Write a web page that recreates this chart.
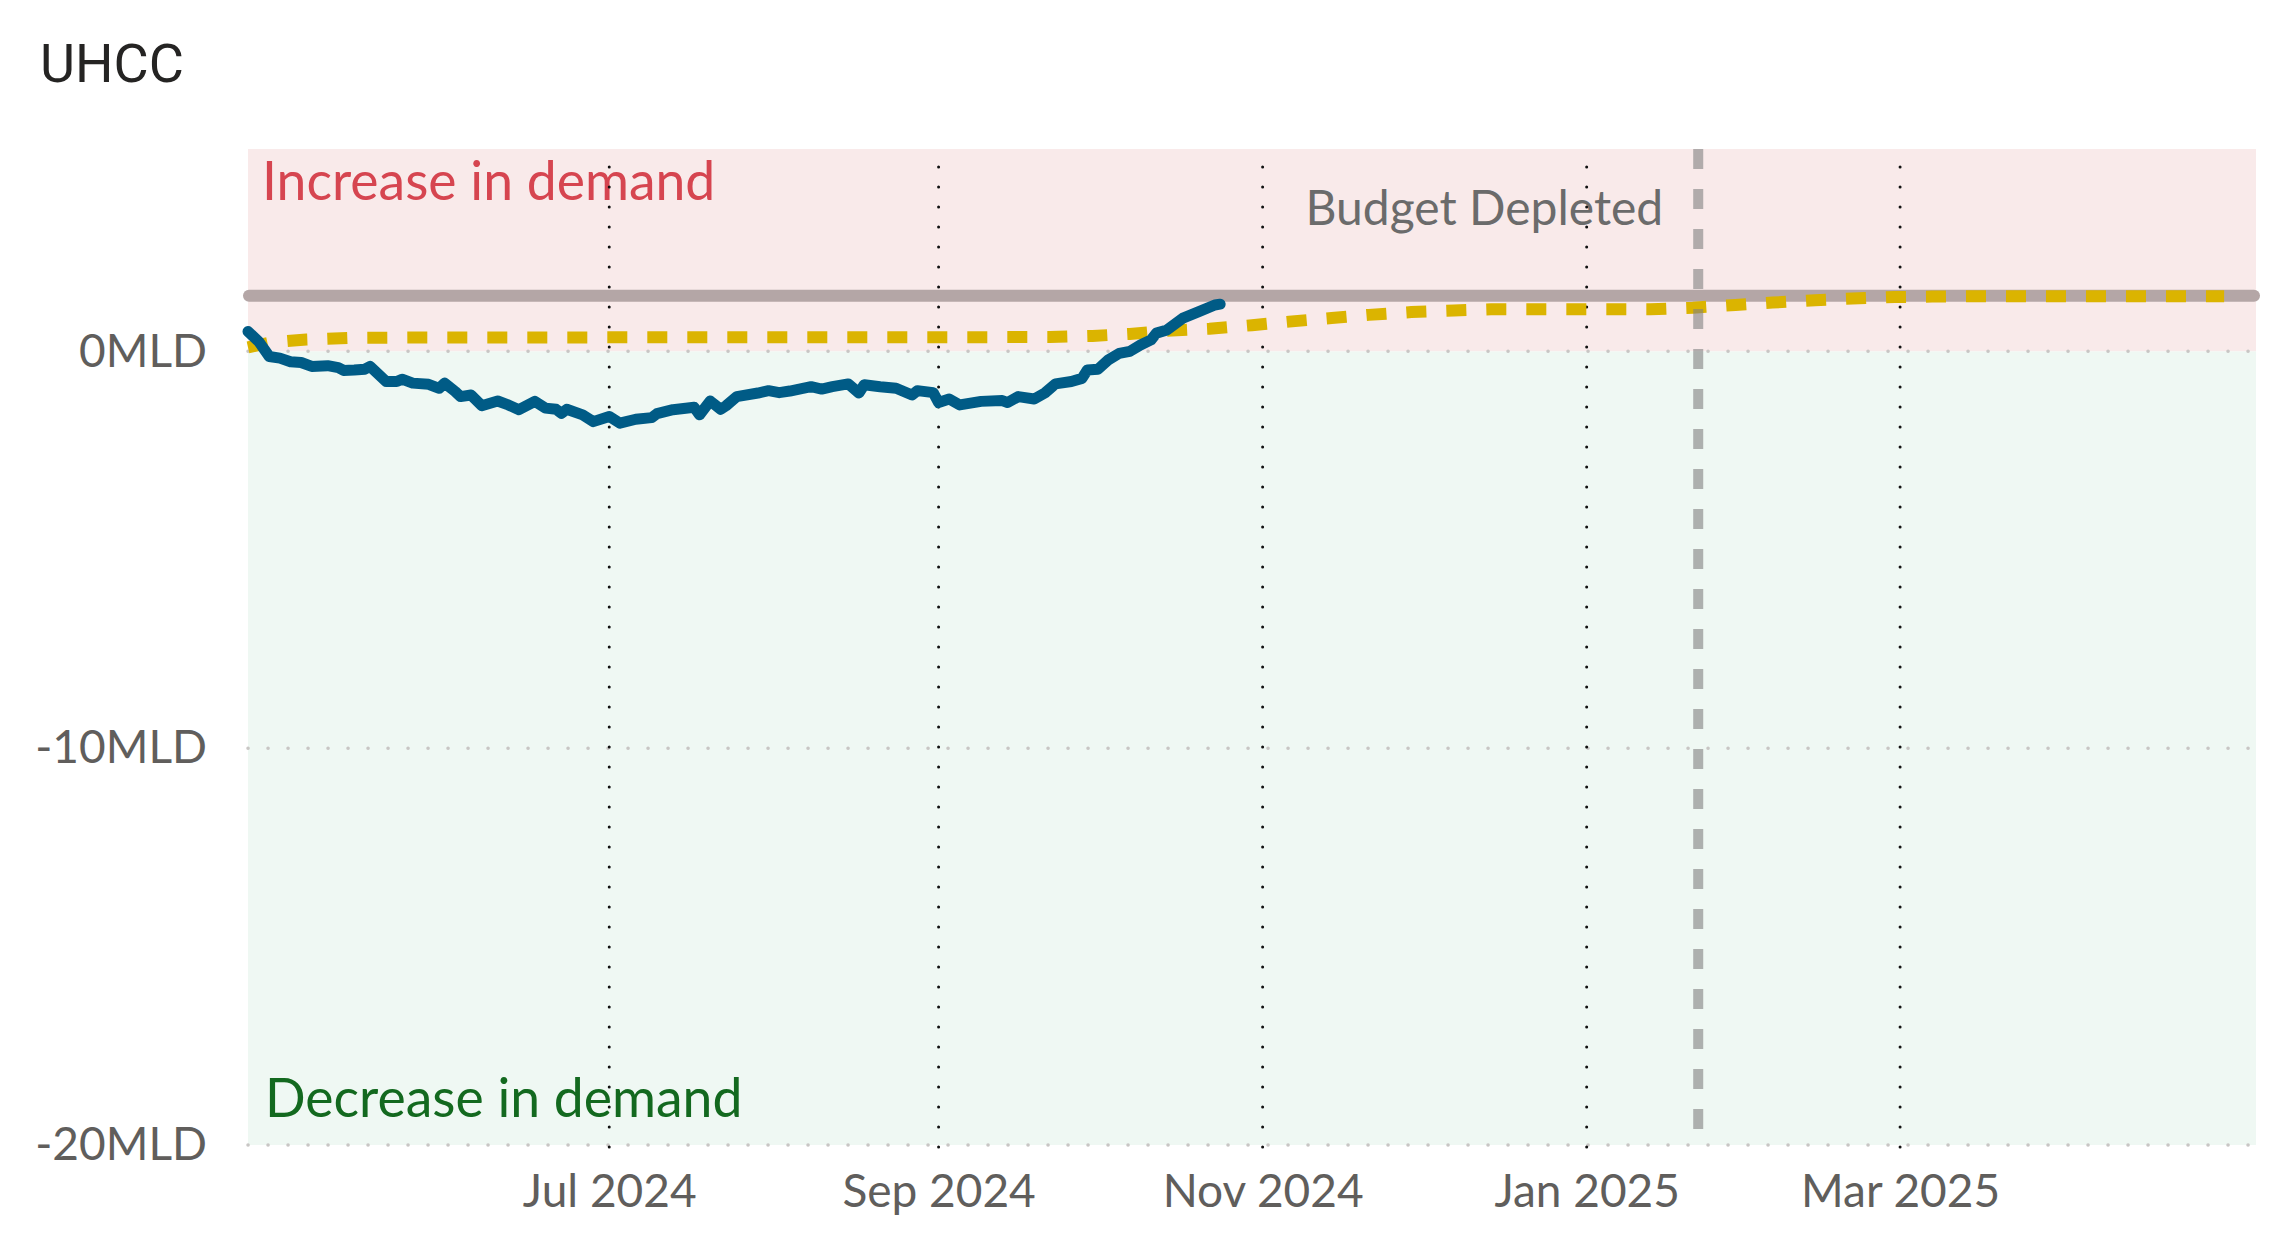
<!DOCTYPE html>
<html>
<head>
<meta charset="utf-8">
<script src="https://cdn.jsdelivr.net/npm/d3@7"></script>
<style>
  body { margin: 0; background: #fff; }
  svg { display: block; }
  .axisLabel text { font-family: 'Segoe UI', Lato, sans-serif; font-size: 46px; fill: #605e5c; }
</style>
</head>
<body>
<div id="chart"></div>
<script>
// ----------- DATA ------------
const actualDates = [
  '2024-04-24', '2024-04-26', '2024-04-28', '2024-04-30', '2024-05-02', '2024-05-04',
  '2024-05-06', '2024-05-09', '2024-05-11', '2024-05-12', '2024-05-14', '2024-05-16',
  '2024-05-17', '2024-05-20', '2024-05-22', '2024-05-23', '2024-05-25', '2024-05-28',
  '2024-05-30', '2024-05-31', '2024-06-02', '2024-06-03', '2024-06-05', '2024-06-07',
  '2024-06-10', '2024-06-12', '2024-06-14', '2024-06-17', '2024-06-19', '2024-06-21',
  '2024-06-22', '2024-06-23', '2024-06-26', '2024-06-28', '2024-07-01', '2024-07-03',
  '2024-07-06', '2024-07-09', '2024-07-10', '2024-07-13', '2024-07-17', '2024-07-18',
  '2024-07-20', '2024-07-22', '2024-07-23', '2024-07-25', '2024-07-29', '2024-07-31',
  '2024-08-02', '2024-08-04', '2024-08-08', '2024-08-10', '2024-08-12', '2024-08-15',
  '2024-08-17', '2024-08-18', '2024-08-21', '2024-08-24', '2024-08-27', '2024-08-28',
  '2024-08-31', '2024-09-01', '2024-09-03', '2024-09-05', '2024-09-09', '2024-09-13',
  '2024-09-14', '2024-09-16', '2024-09-19', '2024-09-21', '2024-09-23', '2024-09-26',
  '2024-09-28', '2024-09-29', '2024-10-01', '2024-10-03', '2024-10-05', '2024-10-07',
  '2024-10-09', '2024-10-11', '2024-10-12', '2024-10-14', '2024-10-17', '2024-10-20',
  '2024-10-23', '2024-10-24',
];
const actualValues = [
  0.5, 0.25, -0.13, -0.17, -0.26, -0.28,
  -0.38, -0.36, -0.41, -0.48, -0.47, -0.45,
  -0.38, -0.76, -0.76, -0.7, -0.8, -0.83,
  -0.93, -0.8, -1.01, -1.14, -1.1, -1.37,
  -1.25, -1.35, -1.47, -1.26, -1.43, -1.46,
  -1.56, -1.46, -1.6, -1.77, -1.64, -1.81,
  -1.71, -1.67, -1.57, -1.47, -1.41, -1.6,
  -1.25, -1.46, -1.37, -1.14, -1.05, -0.99,
  -1.04, -1.0, -0.89, -0.95, -0.89, -0.82,
  -1.05, -0.84, -0.89, -0.93, -1.1, -0.99,
  -1.04, -1.29, -1.2, -1.35, -1.26, -1.24,
  -1.29, -1.14, -1.2, -1.05, -0.82, -0.76,
  -0.68, -0.47, -0.45, -0.21, -0.05, 0.0,
  0.16, 0.29, 0.46, 0.54, 0.84, 1.0,
  1.17, 1.19,
];

const forecastDates = [
  '2024-04-24', '2024-04-28', '2024-05-05', '2024-05-13', '2024-05-25', '2024-09-22',
  '2024-09-30', '2024-10-07', '2024-10-14', '2024-10-22', '2024-10-30', '2024-11-06',
  '2024-11-14', '2024-11-21', '2024-11-29', '2024-12-07', '2024-12-14', '2025-01-13',
  '2025-01-21', '2025-01-29', '2025-02-05', '2025-02-13', '2025-02-20', '2025-02-28',
  '2025-03-07', '2025-03-15', '2025-05-01',
];
const forecastValues = [
  0.1, 0.22, 0.3, 0.34, 0.35, 0.36,
  0.39, 0.44, 0.52, 0.57, 0.66, 0.75,
  0.84, 0.92, 0.99, 1.03, 1.06, 1.06,
  1.1, 1.17, 1.23, 1.29, 1.33, 1.37,
  1.38, 1.39, 1.39,
];

const targetValue = 1.4;
const budgetDepletedDate = '2025-01-22';
const xDomain = ['2024-04-24', '2025-05-07'];
const yDomain = [-20, 5.1];
const yTicks = [0, -10, -20];
const xTicks = ['2024-07-01', '2024-09-01', '2024-11-01', '2025-01-01', '2025-03-01'];

const title = 'UHCC';
const increaseLabel = 'Increase in demand';
const decreaseLabel = 'Decrease in demand';
const budgetLabel = 'Budget Depleted';

// ----------- CREATE CHART -------------
const parse = d3.timeParse('%Y-%m-%d');
const width = 2279;
const height = 1244;
const margin = { top: 149, right: 23, bottom: 99, left: 248 };

const actual = actualDates.map((d, i) => ({ date: parse(d), value: actualValues[i] }));
const forecast = forecastDates.map((d, i) => ({ date: parse(d), value: forecastValues[i] }));

const svg = d3
  .select('#chart')
  .append('svg')
  .attr('width', width)
  .attr('height', height);

svg.append('rect').attr('width', width).attr('height', height).attr('fill', '#fff');

const x = d3
  .scaleTime()
  .domain(xDomain.map(parse))
  .range([margin.left, width - margin.right]);

const y = d3
  .scaleLinear()
  .domain(yDomain)
  .range([height - margin.bottom, margin.top]);

const x0 = x.range()[0],
  x1 = x.range()[1];

// ----------- TITLE ------------
svg
  .append('text')
  .attr('x', 40)
  .attr('y', 82)
  .style('font-family', 'Roboto, sans-serif')
  .style('font-size', '54px')
  .style('fill', '#252423')
  .text(title);

// ----------- ZONES ------------
svg
  .append('rect')
  .attr('x', x0)
  .attr('y', y(yDomain[1]))
  .attr('width', x1 - x0)
  .attr('height', y(0) - y(yDomain[1]))
  .attr('fill', '#f9eaea');

svg
  .append('rect')
  .attr('x', x0)
  .attr('y', y(0))
  .attr('width', x1 - x0)
  .attr('height', y(yDomain[0]) - y(0))
  .attr('fill', '#eff8f3');

svg
  .append('text')
  .attr('x', x0 + 14)
  .attr('y', y(yDomain[1]) + 51)
  .style('font-family', "'Segoe UI', Lato, sans-serif")
  .style('font-size', '53.5px')
  .style('fill', '#d64550')
  .text(increaseLabel);

svg
  .append('text')
  .attr('x', x0 + 17)
  .attr('y', y(yDomain[0]) - 28)
  .style('font-family', "'Segoe UI', Lato, sans-serif")
  .style('font-size', '53.5px')
  .style('fill', '#13691f')
  .text(decreaseLabel);

svg
  .append('text')
  .attr('x', x(parse(budgetDepletedDate)) - 35)
  .attr('y', 225)
  .attr('text-anchor', 'end')
  .style('font-family', "'Segoe UI', Lato, sans-serif")
  .style('font-size', '48px')
  .style('fill', '#6b6b6b')
  .text(budgetLabel);

// ----------- GRID ------------
svg
  .append('g')
  .selectAll('line')
  .data(yTicks)
  .enter()
  .append('line')
  .attr('x1', x0)
  .attr('x2', x1)
  .attr('y1', (d) => y(d))
  .attr('y2', (d) => y(d))
  .attr('stroke', '#c8c6c4')
  .attr('stroke-width', 3.5)
  .attr('stroke-linecap', 'round')
  .attr('stroke-dasharray', '0.1,19.9');

svg
  .append('g')
  .selectAll('line')
  .data(xTicks)
  .enter()
  .append('line')
  .attr('x1', (d) => x(parse(d)))
  .attr('x2', (d) => x(parse(d)))
  .attr('y1', y(yDomain[0]) + 2)
  .attr('y2', y(yDomain[1]))
  .attr('stroke', '#111')
  .attr('stroke-width', 3)
  .attr('stroke-linecap', 'round')
  .attr('stroke-dasharray', '0.1,19.9');

// ----------- AXES ------------
svg
  .append('g')
  .attr('class', 'axisLabel')
  .attr('transform', `translate(0, ${y(yDomain[0])})`)
  .call(
    d3
      .axisBottom(x)
      .tickValues(xTicks.map(parse))
      .tickFormat(d3.timeFormat('%b %Y'))
      .tickSize(0)
      .tickPadding(29)
  )
  .call((g) => g.select('.domain').remove());

svg
  .append('g')
  .attr('class', 'axisLabel')
  .attr('transform', `translate(${x0}, 0)`)
  .call(
    d3
      .axisLeft(y)
      .tickValues(yTicks)
      .tickFormat((d) => `${d}MLD`)
      .tickSize(0)
      .tickPadding(41)
  )
  .call((g) => g.select('.domain').remove());

// ----------- TARGET LINE ------------
svg
  .append('line')
  .attr('x1', x0 + 1)
  .attr('x2', x1 - 2)
  .attr('y1', y(targetValue))
  .attr('y2', y(targetValue))
  .attr('stroke', '#b4a6a6')
  .attr('stroke-width', 12)
  .attr('stroke-linecap', 'round');

// ----------- FORECAST ------------
const line = d3
  .line()
  .x((d) => x(d.date))
  .y((d) => y(d.value));

svg
  .append('path')
  .datum(forecast)
  .attr('d', line)
  .attr('fill', 'none')
  .attr('stroke', '#dbb400')
  .attr('stroke-width', 12)
  .attr('stroke-dasharray', '20,20');

// ----------- BUDGET DEPLETED ------------
svg
  .append('line')
  .attr('x1', x(parse(budgetDepletedDate)))
  .attr('x2', x(parse(budgetDepletedDate)))
  .attr('y1', y(yDomain[1]))
  .attr('y2', y(yDomain[0]))
  .attr('stroke', '#808080')
  .attr('stroke-opacity', 0.6)
  .attr('stroke-width', 10)
  .attr('stroke-dasharray', '20,20');

// ----------- ACTUAL ------------
svg
  .append('path')
  .datum(actual)
  .attr('d', line)
  .attr('fill', 'none')
  .attr('stroke', '#005b86')
  .attr('stroke-width', 11)
  .attr('stroke-linejoin', 'round')
  .attr('stroke-linecap', 'round');
</script>
</body>
</html>
